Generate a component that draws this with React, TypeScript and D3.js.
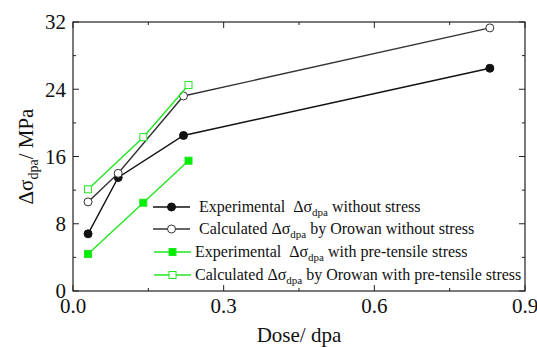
import React from "react";
import * as d3 from "d3";

const doseBlack = [0.03, 0.09, 0.22, 0.83];
const expNoStress = [6.8, 13.5, 18.5, 26.5];
const calcNoStress = [10.6, 14.0, 23.2, 31.3];
const doseGreen = [0.03, 0.14, 0.23];
const expStress = [4.4, 10.5, 15.5];
const calcStress = [12.1, 18.3, 24.5];
const xTicks = [0, 0.3, 0.6, 0.9];
const xMinor = [0.15, 0.45, 0.75];
const yTicks = [0, 8, 16, 24, 32];
const yMinor = [4, 12, 20, 28];

const W = 537, H = 347;
const L = 73, R = 525, T = 22, B = 291;
const FONT = "Liberation Serif";

export default function App() {
  const x = d3.scaleLinear().domain([0, 0.9]).range([L, R]);
  const y = d3.scaleLinear().domain([0, 32]).range([B, T]);
  const line = d3.line<[number, number]>().x(d => x(d[0])).y(d => y(d[1]));
  const series = [
    { xs: doseBlack, ys: expNoStress, color: "#111", fill: "#111", shape: "circle" },
    { xs: doseBlack, ys: calcNoStress, color: "#333", fill: "#fff", shape: "circle" },
    { xs: doseGreen, ys: expStress, color: "#22e622", fill: "#00ee00", shape: "square" },
    { xs: doseGreen, ys: calcStress, color: "#22e622", fill: "#fff", shape: "square" },
  ];
  const marker = (shape: string, cx: number, cy: number, color: string, fill: string, k: string) =>
    shape === "circle" ? (
      <circle key={k} cx={cx} cy={cy} r={4} fill={fill} stroke={color} strokeWidth={1} />
    ) : (
      <rect key={k} x={cx - 3.5} y={cy - 3.5} width={7} height={7} fill={fill} stroke={color} strokeWidth={1} />
    );
  const legend = [
    { label: ["Experimental\u00a0 Δσ", "dpa", " without stress"], lx: 153, tx: 199, ly: 207 },
    { label: ["Calculated Δσ", "dpa", " by Orowan without stress"], lx: 153, tx: 199, ly: 229 },
    { label: ["Experimental\u00a0 Δσ", "dpa", " with pre-tensile stress"], lx: 154, tx: 195, ly: 252 },
    { label: ["Calculated Δσ", "dpa", " by Orowan with pre-tensile stress"], lx: 154, tx: 195, ly: 275 },
  ];
  const ts = { fontFamily: FONT };
  return (
    <svg width={W} height={H} style={{ position: "absolute", left: 0, top: 0, background: "#fff" }}>
      <rect x={L} y={T} width={R - L} height={B - T} fill="none" stroke="#222" strokeWidth={1.2} />
      {xTicks.map(t => (
        <g key={"xt" + t}>
          <line x1={x(t)} x2={x(t)} y1={B} y2={B - 6} stroke="#222" />
          <line x1={x(t)} x2={x(t)} y1={T} y2={T + 6} stroke="#222" />
          <text style={ts} x={x(t)} y={313} textAnchor="middle" fontSize={21} fill="#111">{t.toFixed(1)}</text>
        </g>
      ))}
      {xMinor.map(t => (
        <g key={"xm" + t}>
          <line x1={x(t)} x2={x(t)} y1={B} y2={B - 3} stroke="#222" />
          <line x1={x(t)} x2={x(t)} y1={T} y2={T + 3} stroke="#222" />
        </g>
      ))}
      {yTicks.map(t => (
        <g key={"yt" + t}>
          <line x1={L} x2={L + 6} y1={y(t)} y2={y(t)} stroke="#222" />
          <line x1={R} x2={R - 6} y1={y(t)} y2={y(t)} stroke="#222" />
          <text style={ts} x={66} y={y(t)} dy="0.35em" textAnchor="end" fontSize={21} fill="#111">{t}</text>
        </g>
      ))}
      {yMinor.map(t => (
        <g key={"ym" + t}>
          <line x1={L} x2={L + 3} y1={y(t)} y2={y(t)} stroke="#222" />
          <line x1={R} x2={R - 3} y1={y(t)} y2={y(t)} stroke="#222" />
        </g>
      ))}
      {series.map((s, i) => (
        <g key={"s" + i}>
          <path d={line(s.xs.map((v, j) => [v, s.ys[j]] as [number, number])) || ""} fill="none" stroke={s.color} strokeWidth={1.4} />
          {s.xs.map((v, j) => marker(s.shape, x(v), y(s.ys[j]), s.color, s.fill, "m" + i + j))}
        </g>
      ))}
      {legend.map((l, i) => (
        <g key={"l" + i}>
          <line x1={l.lx} x2={l.lx + 37} y1={l.ly} y2={l.ly} stroke={series[i].color} strokeWidth={1.4} />
          {marker(series[i].shape, l.lx + 18.5, l.ly, series[i].color, series[i].fill, "lm" + i)}
          <text style={ts} x={l.tx} y={l.ly + 5} fontSize={16} fill="#111">
            {l.label[0]}
            <tspan fontSize={11} dy={4}>{l.label[1]}</tspan>
            <tspan dy={-4}>{l.label[2]}</tspan>
          </text>
        </g>
      ))}
      <text style={ts} x={(L + R) / 2} y={342} textAnchor="middle" fontSize={21} fill="#111">Dose/ dpa</text>
      <text style={ts} transform={`translate(33,${(T + B) / 2}) rotate(-90)`} textAnchor="middle" fontSize={21} fill="#111">
        Δσ<tspan fontSize={14} dy={5}>dpa</tspan><tspan dy={-5}>/ MPa</tspan>
      </text>
    </svg>
  );
}
